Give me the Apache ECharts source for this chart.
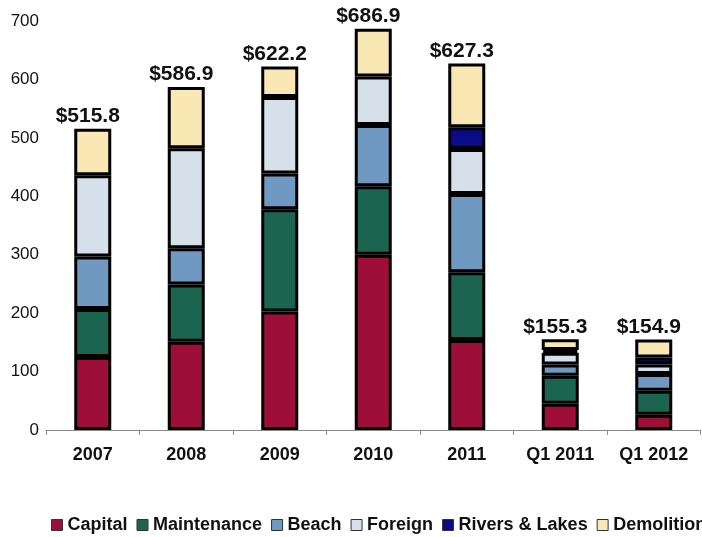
<!DOCTYPE html>
<html>
<head>
<meta charset="utf-8">
<script src="https://cdn.jsdelivr.net/npm/echarts@6/dist/echarts.min.js"></script>
<style>
  html, body { margin: 0; padding: 0; background: #ffffff; }
  #chart { width: 702px; height: 537px; }
</style>
</head>
<body>
<div id="chart"></div>
<script>
// Program spending by category ($ millions)
var categories = ['2007', '2008', '2009', '2010', '2011', 'Q1 2011', 'Q1 2012'];

var capital     = [125, 151, 203, 300, 154, 45, 26];
var maintenance = [82, 98, 175, 117, 116, 48, 41];
var beach       = [90, 62, 61, 105, 134, 19, 29];
var foreign     = [139, 171, 131, 83, 77, 20, 16];
var riversLakes = ['-', '-', '-', '-', 37, 5, 12];
var demolition  = [79.8, 104.9, 52.2, 81.9, 109.3, 18.3, 30.9];

var yTicks = [0, 100, 200, 300, 400, 500, 600, 700];

var seriesDefs = [
  { name: 'Capital', data: capital, color: '#9d0f38' },
  { name: 'Maintenance', data: maintenance, color: '#1b6550' },
  { name: 'Beach', data: beach, color: '#7099c1' },
  { name: 'Foreign', data: foreign, color: '#d6e0eb' },
  { name: 'Rivers & Lakes', data: riversLakes, color: '#0b0b8a' },
  { name: 'Demolition', data: demolition, color: '#f9e7b4' }
];

// Bar totals, summed from the segments
var totals = categories.map(function (c, i) {
  var s = 0;
  seriesDefs.forEach(function (d) {
    var v = d.data[i];
    if (typeof v === 'number') s += v;
  });
  return s;
});

var FONT = '"Liberation Sans", Arial, sans-serif';

var series = seriesDefs.map(function (d, idx) {
  var s = {
    name: d.name,
    type: 'bar',
    stack: 'total',
    barWidth: 37,
    data: d.data,
    itemStyle: { color: d.color, borderColor: '#000000', borderWidth: 3 },
    emphasis: { disabled: true }
  };
  if (idx === seriesDefs.length - 1) {
    s.label = {
      show: true,
      position: 'top',
      distance: 2,
      offset: [-5, 0],
      fontFamily: FONT,
      fontSize: 21,
      fontWeight: 'bold',
      color: '#111111',
      formatter: function (p) { return '$' + totals[p.dataIndex].toFixed(1); }
    };
  }
  return s;
});

var chart = echarts.init(document.getElementById('chart'), null, { renderer: 'canvas' });
chart.setOption({
  backgroundColor: '#ffffff',
  animation: false,
  grid: { left: 46, top: 21, width: 654.5, bottom: 107, outerBoundsMode: 'none', containLabel: false },
  legend: {
    show: true,
    left: 46,
    top: 511,
    width: 1200,
    orient: 'horizontal',
    itemWidth: 11,
    itemHeight: 11,
    itemGap: 9,
    icon: 'rect',
    itemStyle: { borderColor: '#333333', borderWidth: 1 },
    textStyle: { fontFamily: FONT, fontSize: 18, fontWeight: 'bold', color: '#111111' },
    selectedMode: false
  },
  xAxis: {
    type: 'category',
    data: categories,
    axisLine: { show: true, lineStyle: { color: '#8a8a8a', width: 1 } },
    axisTick: { show: true, length: 5, lineStyle: { color: '#8a8a8a' } },
    axisLabel: { margin: 16, fontFamily: FONT, fontSize: 18, fontWeight: 'bold', color: '#111111' },
    splitLine: { show: false }
  },
  yAxis: {
    type: 'value',
    min: yTicks[0],
    max: yTicks[yTicks.length - 1],
    interval: 100,
    axisLine: { show: false },
    axisTick: { show: false },
    splitLine: { show: false },
    axisLabel: { margin: 7, fontFamily: FONT, fontSize: 17, color: '#111111' }
  },
  series: series
});
</script>
</body>
</html>
